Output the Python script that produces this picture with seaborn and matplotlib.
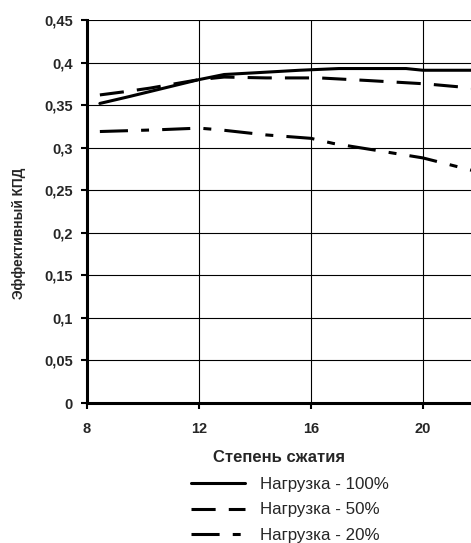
import matplotlib
matplotlib.use("Agg")
import matplotlib.pyplot as plt
import seaborn as sns
import pandas as pd

# степень сжатия -> эффективный КПД
X_100 = [8.46, 9.5, 10.5, 12.0, 12.9, 14.0, 15.6, 17.0, 18.5, 19.4, 20.0, 21.8]
Y_100 = [0.352, 0.360, 0.368, 0.380, 0.386, 0.388, 0.391, 0.393, 0.393, 0.393, 0.391, 0.391]

X_50 = [8.46, 9.4, 10.25, 12.0, 12.9, 14.4, 16.3, 18.0, 20.1, 21.8]
Y_50 = [0.362, 0.366, 0.370, 0.380, 0.383, 0.382, 0.382, 0.379, 0.375, 0.370]

X_20 = [8.46, 10.5, 12.0, 12.75, 14.4, 16.0, 16.8, 18.5, 20.0, 21.8]
Y_20 = [0.319, 0.321, 0.323, 0.321, 0.315, 0.311, 0.305, 0.296, 0.288, 0.273]

LABELS = ["Нагрузка - 100%", "Нагрузка - 50%", "Нагрузка - 20%"]
X_TICKS = [8, 12, 16, 20]
Y_TICKS = [0, 0.05, 0.1, 0.15, 0.2, 0.25, 0.3, 0.35, 0.4, 0.45]


def build_frame() -> pd.DataFrame:
    parts = []
    for lab, xs, ys in zip(LABELS, [X_100, X_50, X_20], [Y_100, Y_50, Y_20]):
        parts.append(pd.DataFrame({"x": xs, "y": ys, "load": lab}))
    return pd.concat(parts, ignore_index=True)


def plot_data(df: pd.DataFrame):
    sns.set_style("white")
    plt.rcParams["font.family"] = ["Liberation Sans", "DejaVu Sans"]

    fig = plt.figure(figsize=(4.71, 5.43), dpi=100)
    ax = fig.add_axes([0.1847, 0.2578, 0.8153, 0.7053])

    dashes = {
        LABELS[0]: "",
        LABELS[1]: (7.9, 4.3),
        LABELS[2]: (9.2, 4.3, 2.6, 4.3),
    }
    sns.lineplot(df, x="x", y="y", style="load", dashes=dashes, color="black",
                 linewidth=2.2, estimator=None, sort=False, ax=ax, legend=True)

    ax.set_xlim(8, 21.72)
    ax.set_ylim(0, 0.45)
    ax.set_xticks(X_TICKS)
    ax.set_yticks(Y_TICKS)
    ax.set_yticklabels([("%g" % v).replace(".", ",") for v in Y_TICKS],
                       fontweight="bold", fontsize=10.5)
    ax.set_xticklabels([str(v) for v in X_TICKS], fontweight="bold", fontsize=10.5)
    ax.grid(True, color="black", linewidth=0.8)
    ax.set_axisbelow(True)

    for side in ["top", "right"]:
        ax.spines[side].set_visible(False)
    for side in ["left", "bottom"]:
        ax.spines[side].set_color("black")
        ax.spines[side].set_linewidth(2.2)
    ax.tick_params(axis="y", direction="out", length=4, width=1.5,
                   color="black", left=True, pad=6)
    ax.tick_params(axis="x", direction="out", length=4, width=1.5,
                   color="black", bottom=True, pad=10)

    ax.set_xlabel("Степень сжатия", fontweight="bold", fontsize=12, labelpad=10)
    ax.set_ylabel("Эффективный КПД", fontsize=9.8, fontweight="bold")
    ax.yaxis.set_label_coords(-0.16, 0.444)

    handles, labels = ax.get_legend_handles_labels()
    ax.get_legend().remove()
    fig.legend(handles, labels, loc="upper left", bbox_to_anchor=(0.405, 0.121),
               frameon=False, fontsize=12.2, handlelength=3.2, handletextpad=0.9,
               labelspacing=0.6, borderaxespad=0, borderpad=0)

    fig.savefig("out.png", dpi=100)


df = build_frame()
plot_data(df)
